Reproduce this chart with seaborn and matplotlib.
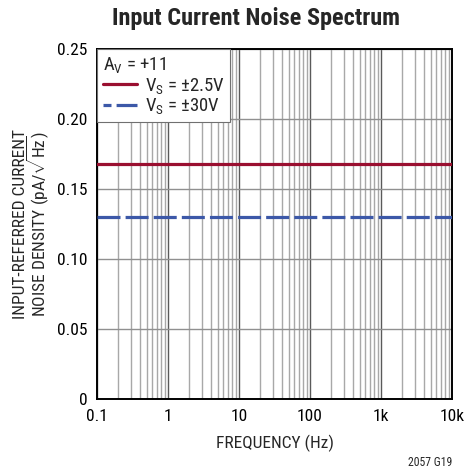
import matplotlib
matplotlib.use("Agg")
import matplotlib.pyplot as plt
import seaborn as sns
import pandas as pd
from matplotlib.ticker import FixedLocator, FixedFormatter, NullFormatter
from matplotlib.lines import Line2D

freq_hz = [0.1, 1, 10, 100, 1000, 10000]
noise_2v5 = [0.168, 0.168, 0.168, 0.168, 0.168, 0.168]
noise_30v = [0.130, 0.130, 0.130, 0.130, 0.130, 0.130]
x_tick_vals = [0.1, 1, 10, 100, 1000, 10000]
x_tick_labels = ["0.1", "1", "10", "100", "1k", "10k"]
y_tick_vals = [0, 0.05, 0.10, 0.15, 0.20, 0.25]
y_tick_labels = ["0", "0.05", "0.10", "0.15", "0.20", "0.25"]
series_names = ["V$_S$ = ±2.5V", "V$_S$ = ±30V"]

FONT = 'Roboto Condensed'
sns.set_style("white")
plt.rcParams['font.family'] = [FONT, 'DejaVu Sans']
plt.rcParams['mathtext.fontset'] = 'custom'
plt.rcParams['mathtext.rm'] = FONT
plt.rcParams['mathtext.it'] = FONT
plt.rcParams['mathtext.bf'] = FONT + ':bold'

df = pd.DataFrame({
    "freq": freq_hz * 2,
    "noise": noise_2v5 + noise_30v,
    "series": [series_names[0]] * len(freq_hz) + [series_names[1]] * len(freq_hz),
})

fig = plt.figure(figsize=(4.66, 4.72), dpi=100)
ax = fig.add_axes([97/466, 1 - 399/472, (452-97)/466, (399-49)/472])

red = "#9a0f30"
blue = "#3c58a8"
lw = 2.3

sns.lineplot(data=df[df.series == series_names[0]], x="freq", y="noise", ax=ax,
             color=red, linewidth=lw, legend=False, zorder=3)
sns.lineplot(data=df[df.series == series_names[1]], x="freq", y="noise", ax=ax,
             color=blue, linewidth=lw, legend=False, zorder=3)
ax.lines[1].set_dashes([7.2, 1.6])

ax.set_xscale("log")
ax.set_xlim(0.1, 10000)
ax.set_ylim(0, 0.25)

ax.xaxis.set_major_locator(FixedLocator(x_tick_vals))
ax.xaxis.set_major_formatter(FixedFormatter(x_tick_labels))
minors = [m * d for d in [0.1, 1, 10, 100, 1000] for m in range(2, 10)]
ax.xaxis.set_minor_locator(FixedLocator(minors))
ax.xaxis.set_minor_formatter(NullFormatter())
ax.yaxis.set_major_locator(FixedLocator(y_tick_vals))
ax.yaxis.set_major_formatter(FixedFormatter(y_tick_labels))

ax.grid(True, which="major", axis="x", color="#5a5a5a", linewidth=1.0)
ax.grid(True, which="minor", axis="x", color="#a8a8a8", linewidth=1.0)
ax.grid(True, which="major", axis="y", color="#909090", linewidth=1.0)
ax.set_axisbelow(True)

for s in ax.spines.values():
    s.set_color("black")
    s.set_linewidth(1.4)

ax.tick_params(axis="both", which="both", length=0, labelsize=12.5, pad=7, colors="black")

ax.set_xlabel("FREQUENCY (Hz)", fontsize=12.5, labelpad=8)
ax.set_ylabel("INPUT-REFERRED CURRENT\nNOISE DENSITY (pA/$\\sqrt{Hz}$)", fontsize=12.5, labelpad=4,
              linespacing=0.82)
fig.text(256/466, 1 - 18/472, "Input Current Noise Spectrum", fontsize=17.5,
         fontweight="bold", ha="center", va="center")

handles = [Line2D([], [], color=red, linewidth=lw),
           Line2D([], [], color=blue, linewidth=lw, linestyle=(4.7, (7.2, 1.6)))]
leg = ax.legend(handles, series_names, title="A$_V$ = +11", loc="upper left",
                fontsize=13.5, title_fontsize=13.5, frameon=True, fancybox=False,
                framealpha=1, edgecolor="#707070", borderaxespad=0.0,
                handlelength=1.85, handletextpad=0.4, borderpad=0.3, labelspacing=0.05)
leg._legend_box.align = "left"
leg.get_frame().set_linewidth(0.8)

fig.text(452/466, 1 - 462/472, "2057 G19", fontsize=8.5, ha="right", va="center")

fig.savefig("out.png", dpi=100)
